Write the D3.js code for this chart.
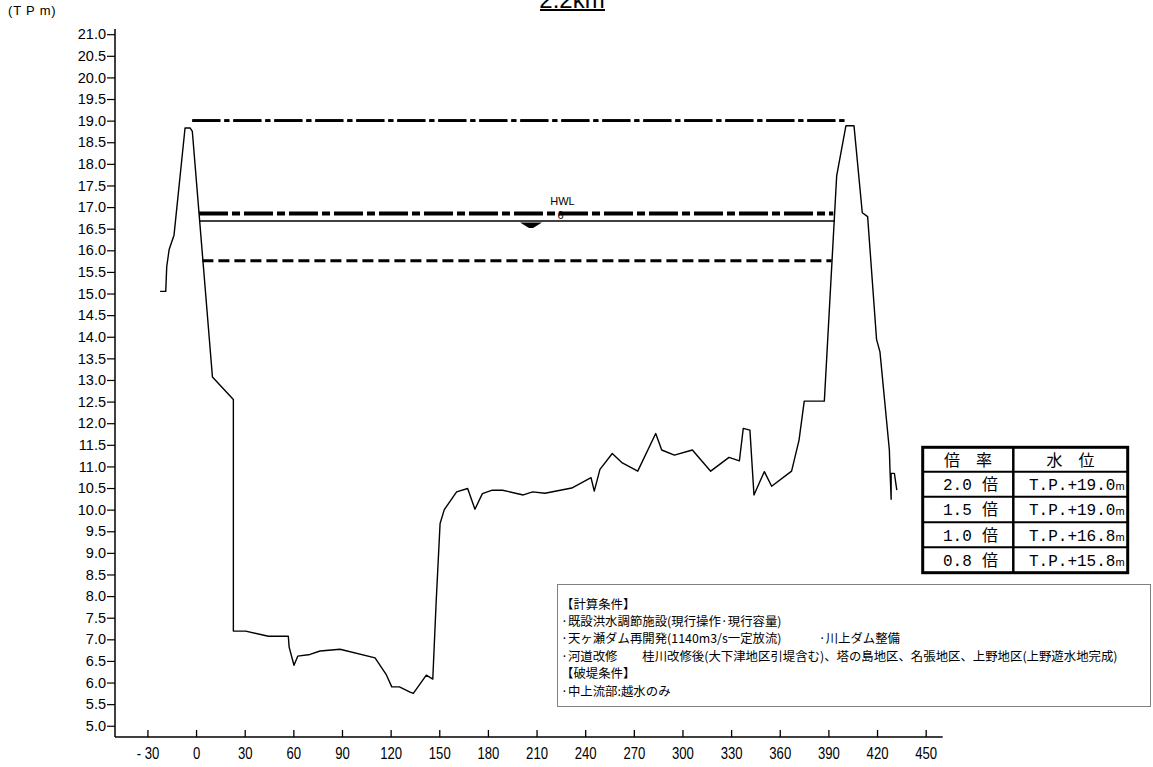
<!DOCTYPE html>
<html><head><meta charset="utf-8">
<script src="https://cdn.jsdelivr.net/npm/d3@7"></script>
<style>
html,body{margin:0;padding:0;background:#fff;}
svg{display:block;}
text{fill:#000;}
</style></head>
<body>
<svg id="c" width="1153" height="767"></svg>
<script>
// ---------- data ----------
const groundX = [-22.2,-18.7,-18.1,-16.6,-13.6,-6.8,-3.7,-2.3,10.1,23.0,23.0,30.6,44.6,56.9,57.4,60.4,62.7,70.3,76.5,88.8,110.4,117.2,120.7,125.4,132,134,142,146,148,150.5,153.1,160.7,167.5,172,176.6,182.7,189.1,201.8,207.6,215.2,231.7,243.6,245.6,249.1,256.7,262.9,272.4,283.5,287.2,295,306.1,317.4,328.7,335.1,337.5,341.6,344.1,350.5,355,367.3,371.9,375.1,387.5,395.1,400.8,405.8,410.9,414.2,419.7,421.8,427.6,428.0,428.7,428.7,430.7,432.2];
const groundY = [15.05,15.05,15.62,16.02,16.35,18.83,18.83,18.75,13.07,12.55,7.19,7.19,7.07,7.07,6.82,6.40,6.61,6.65,6.73,6.77,6.57,6.19,5.90,5.90,5.78,5.75,6.17,6.08,7.8,9.68,10.0,10.41,10.49,10.01,10.37,10.45,10.45,10.34,10.41,10.38,10.50,10.74,10.43,10.93,11.30,11.08,10.89,11.76,11.38,11.26,11.38,10.89,11.21,11.13,11.88,11.84,10.34,10.88,10.54,10.89,11.61,12.51,12.51,17.72,18.88,18.88,16.87,16.78,13.94,13.65,11.38,10.91,10.24,10.84,10.84,10.45];

const ratioLabels = ["2.0","1.5","1.0","0.8"];
const levelLabels = ["T.P.+19.0","T.P.+19.0","T.P.+16.8","T.P.+15.8"];
const waterLevels = [19.0, 19.0, 16.85, 15.76];
const waterStart  = [-2.3, -2.3, 1.8, 3.9];
const waterEnd    = [400.8, 400.8, 393, 392];
const hwlLevel = 16.68, hwlStart = 1.8, hwlEnd = 394;
const hwlMarkX = 206.6, hwlLabelX = 226;

const xTicks = [-30,0,30,60,90,120,150,180,210,240,270,300,330,360,390,420,450];
const yTicks = [5.0,5.5,6.0,6.5,7.0,7.5,8.0,8.5,9.0,9.5,10.0,10.5,11.0,11.5,12.0,12.5,13.0,13.5,14.0,14.5,15.0,15.5,16.0,16.5,17.0,17.5,18.0,18.5,19.0,19.5,20.0,20.5,21.0];

const title = "2.2km";
const yUnit = "(T P m)";
const tableHeader = ["倍\u3000率","水\u3000位"];
const noteLines = [
 "【計算条件】",
 "·既設洪水調節施設(現行操作·現行容量)",
 "·天ヶ瀬ダム再開発(1140m3/s一定放流)\u3000\u3000\u3000·川上ダム整備",
 "·河道改修\u3000\u3000桂川改修後(大下津地区引堤含む)、塔の島地区、名張地区、上野地区(上野遊水地完成)",
 "【破堤条件】",
 "·中上流部:越水のみ"
];

// ---------- chart ----------
const svg = d3.select("#c");
const x = d3.scaleLinear().domain([-50, 460.5]).range([115, 942.7]);
const y = d3.scaleLinear().domain([4.74, 21.12]).range([737, 29]);
const num = "'Liberation Sans', Arial, sans-serif";
const cjk = "'Noto Sans CJK JP', sans-serif";
const mono = "'Liberation Mono', 'DejaVu Sans Mono', monospace";

// title
svg.append("text").attr("x", 572).attr("y", 8).attr("text-anchor","middle")
  .attr("font-family", num).attr("font-size", 24).text(title);
svg.append("line").attr("x1",540).attr("x2",605).attr("y1",10).attr("y2",10)
  .attr("stroke","#000").attr("stroke-width",2.2);
svg.append("text").attr("x", 8).attr("y", 15).attr("font-family", num)
  .attr("font-size", 13).attr("letter-spacing", 0.8).text(yUnit);

// axes
const yAxis = d3.axisLeft(y).tickValues(yTicks).tickFormat(d3.format(".1f")).tickSize(8).tickPadding(1);
const gy = svg.append("g").attr("transform","translate(115,0)").call(yAxis);
gy.select(".domain").attr("d", "M0,29V737").attr("stroke-width",1.5);
gy.selectAll(".tick line").attr("stroke-width",1.2);
gy.selectAll("text").attr("font-family", num).attr("font-size", 14.5).attr("fill","#000");

const xAxis = d3.axisBottom(x).tickValues(xTicks).tickFormat(d => d < 0 ? "- " + Math.abs(d) : String(d)).tickSize(-7).tickPadding(11);
const gx = svg.append("g").attr("transform","translate(0,737)").call(xAxis);
gx.select(".domain").attr("d", "M115,0H942.7").attr("stroke-width",1.5);
gx.selectAll(".tick line").attr("stroke-width",1.3);
gx.selectAll("text").attr("font-family", num).attr("font-size", 16)
  .attr("transform","scale(0.82,1)").attr("fill","#000");

// ground profile
const line = d3.line().x(d => x(d[0])).y(d => y(d[1]));
svg.append("path").datum(d3.zip(groundX, groundY)).attr("d", line)
  .attr("fill","none").attr("stroke","#000").attr("stroke-width",1.4).attr("stroke-linejoin","round");

// water levels
const styles = [
  {dash:"28,4,5,4", w:2.6},
  {dash:"28,4,5,4", w:2.6},
  {dash:"29,4,8,4", w:4},
  {dash:"11,5", w:3}
];
waterLevels.forEach((lv,i) => {
  svg.append("line").attr("x1", x(waterStart[i])).attr("x2", x(waterEnd[i]))
    .attr("y1", y(lv)).attr("y2", y(lv))
    .attr("stroke","#000").attr("stroke-width", styles[i].w)
    .attr("stroke-dasharray", styles[i].dash);
});
// HWL
svg.append("line").attr("x1", x(hwlStart)).attr("x2", x(hwlEnd))
  .attr("y1", y(hwlLevel)).attr("y2", y(hwlLevel)).attr("stroke","#000").attr("stroke-width",1.5);
const mx = x(hwlMarkX), my = y(hwlLevel);
svg.append("path").attr("d", `M${mx-11},${my+1.5}H${mx+11}L${mx+2},${my+7}H${mx-2}Z`).attr("fill","#000");
svg.append("text").attr("x", x(hwlLabelX)).attr("y", y(hwlLevel)-16).attr("text-anchor","middle")
  .attr("font-family", num).attr("font-size", 11).text("HWL");
svg.append("text").attr("x", x(hwlLabelX)-2).attr("y", y(hwlLevel)-2).attr("text-anchor","middle")
  .attr("font-family", num).attr("font-size", 11).text("6");

// table
const tx0 = 922.7, tx1 = 1013.3, tx2 = 1127.7;
const rowEdges = [447.3, 471.7, 496.7, 522.2, 547.3, 572.7];
const tg = svg.append("g");
tg.append("rect").attr("x",tx0).attr("y",rowEdges[0]).attr("width",tx2-tx0).attr("height",rowEdges[5]-rowEdges[0])
  .attr("fill","#fff").attr("stroke","#000").attr("stroke-width",3);
tg.append("line").attr("x1",tx1).attr("x2",tx1).attr("y1",rowEdges[0]).attr("y2",rowEdges[5])
  .attr("stroke","#000").attr("stroke-width",2.5);
rowEdges.slice(1,5).forEach(r => tg.append("line").attr("x1",tx0).attr("x2",tx2).attr("y1",r).attr("y2",r)
  .attr("stroke","#000").attr("stroke-width",2));
tg.append("text").attr("x",(tx0+tx1)/2).attr("y",rowEdges[0]+18.5).attr("text-anchor","middle")
  .attr("font-family",cjk).attr("font-size",16).text(tableHeader[0]);
tg.append("text").attr("x",(tx1+tx2)/2).attr("y",rowEdges[0]+18.5).attr("text-anchor","middle")
  .attr("font-family",cjk).attr("font-size",16).text(tableHeader[1]);
ratioLabels.forEach((r,i) => {
  const by = rowEdges[i+1] + 18.5;
  const t = tg.append("text").attr("x", 943).attr("y", by);
  t.append("tspan").attr("font-family", mono).attr("font-size",16).text(r);
  t.append("tspan").attr("x", 982).attr("font-family", cjk).attr("font-size",16).text("倍");
  const u = tg.append("text").attr("x", 1029).attr("y", by);
  u.append("tspan").attr("font-family", mono).attr("font-size",16).text(levelLabels[i]);
  u.append("tspan").attr("font-family", num).attr("font-size",11).text("m");
});

// notes box
svg.append("rect").attr("x",557.5).attr("y",584.5).attr("width",593).attr("height",122)
  .attr("fill","#fff").attr("stroke","#000").attr("stroke-width",1).attr("stroke-dasharray","1,1");
noteLines.forEach((s,i) => {
  svg.append("text").attr("x",561).attr("y",608.5 + i*17.4)
    .attr("font-family",cjk).attr("font-size",12.4).text(s);
});
</script>
</body></html>
